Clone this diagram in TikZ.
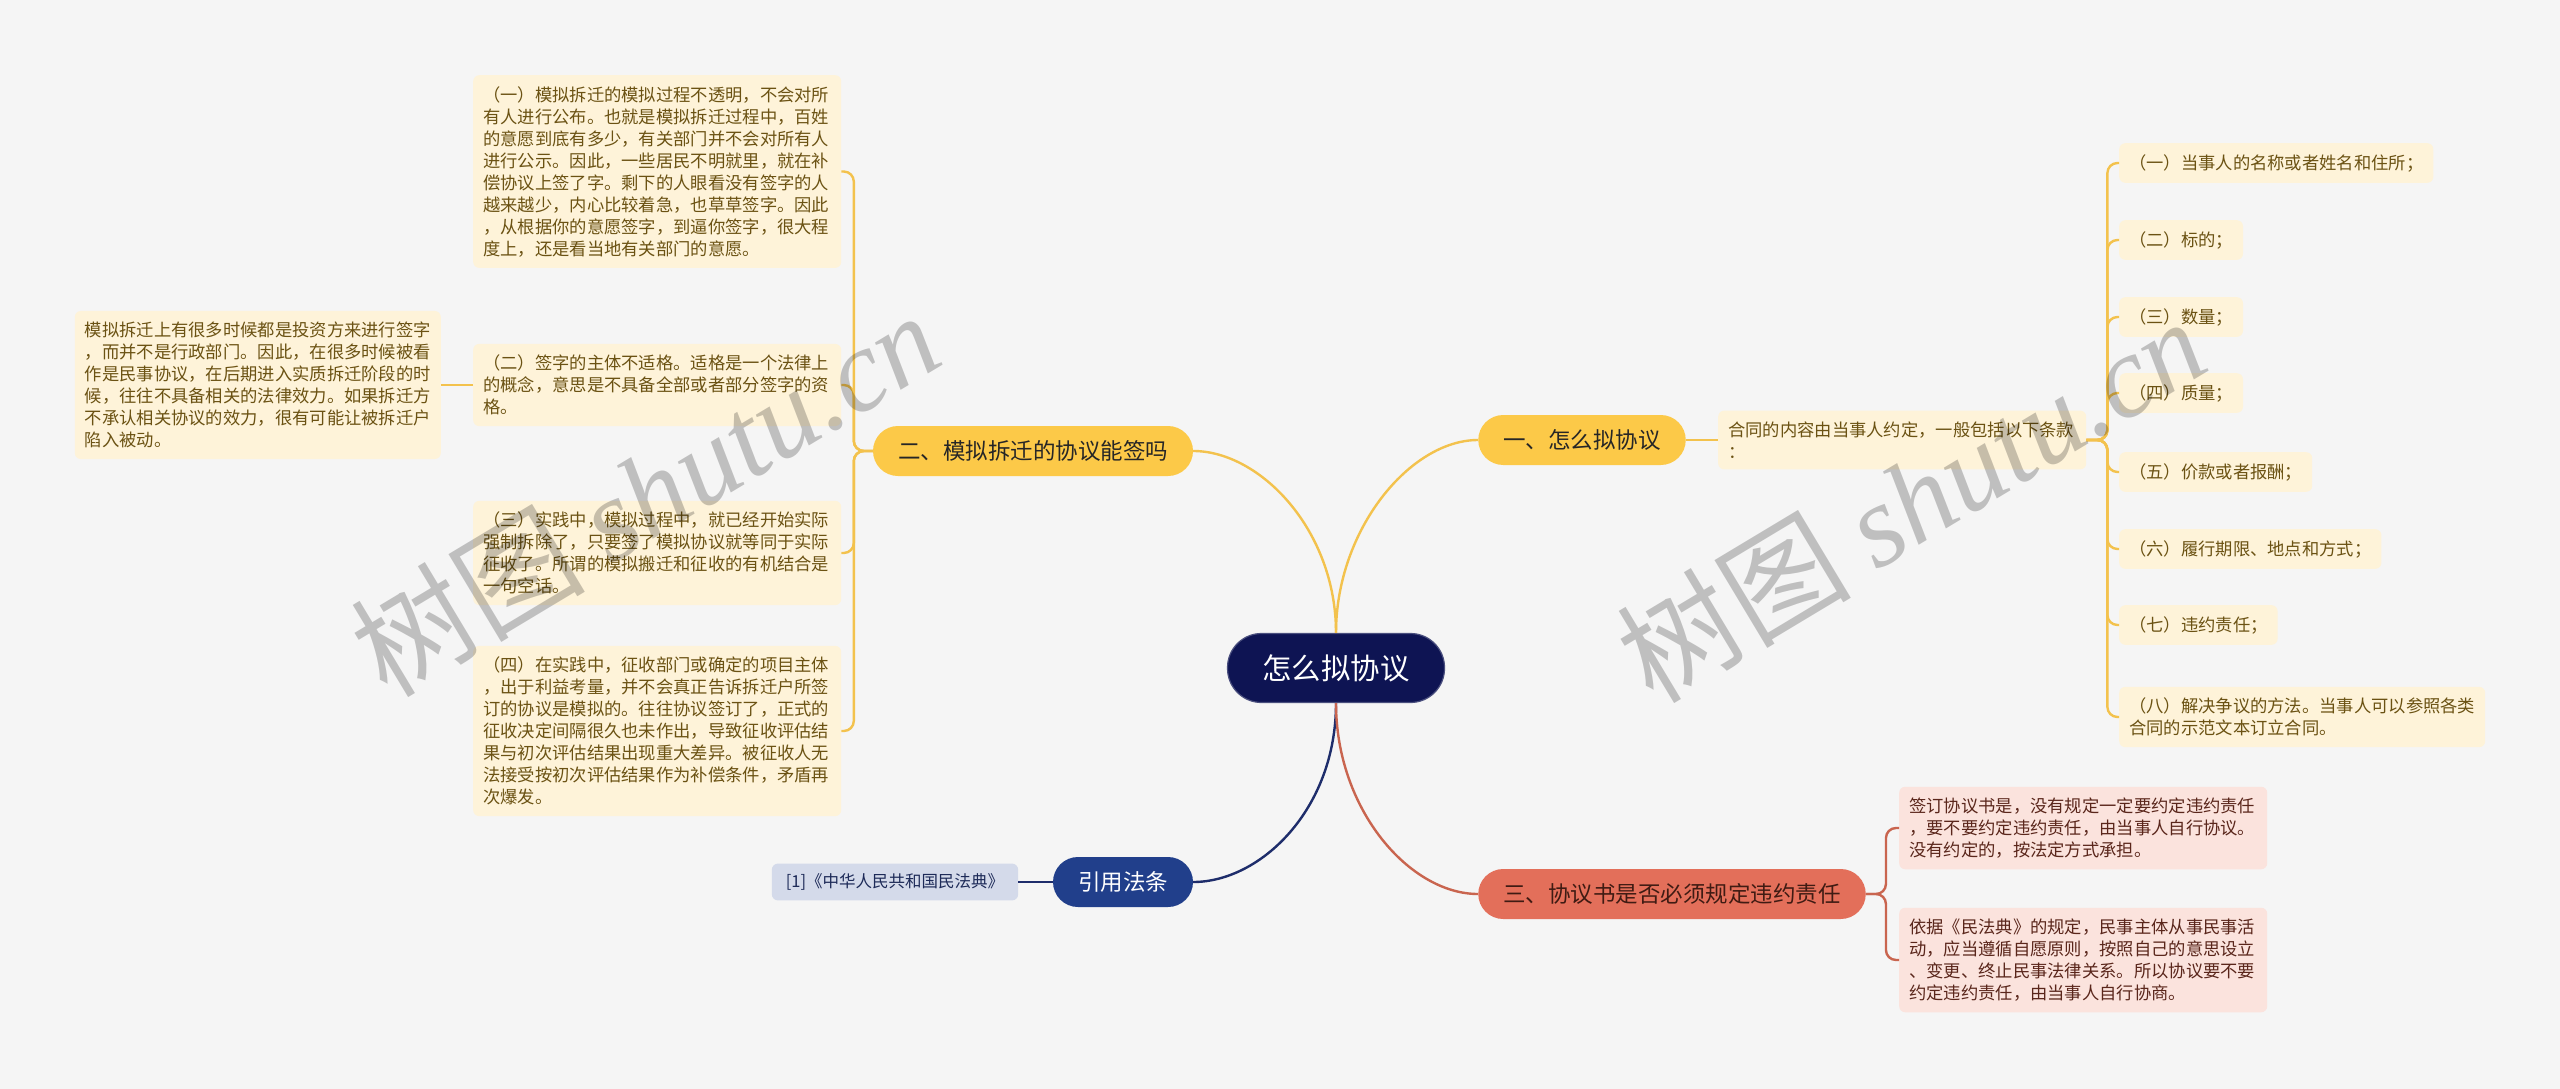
\documentclass[tikz,border=0pt]{standalone}
\usepackage{fontspec}
\setmainfont{Noto Sans CJK SC}
\newfontfamily\marcafont{Liberation Serif}

\definecolor{fondo}{HTML}{F5F5F5}
\definecolor{azulraiz}{HTML}{0E1453}
\definecolor{amarillo}{HTML}{FCC948}
\definecolor{lineaam}{HTML}{F3C24D}
\definecolor{cremahoja}{HTML}{FEF3D9}
\definecolor{textoam}{HTML}{6B5213}
\definecolor{rojo}{HTML}{E36F5A}
\definecolor{linearo}{HTML}{C9654F}
\definecolor{rosahoja}{HTML}{FBE3DD}
\definecolor{textoro}{HTML}{5A261B}
\definecolor{azulrama}{HTML}{213F8B}
\definecolor{lineaaz}{HTML}{1E2D6B}
\definecolor{grisazul}{HTML}{D4DAEA}
\definecolor{textoaz}{HTML}{1D2A58}

\tikzset{
  raiz/.style={fill=azulraiz,draw=azulraiz!75!white,line width=1.2pt,text=white,rounded corners=34pt,
    minimum width=217pt,minimum height=69pt,font=\fontsize{29.4}{34}\selectfont},
  rama/.style={rounded corners=25pt,minimum height=50pt,inner xsep=25pt,font=\fontsize{22.5}{27}\selectfont},
  hoja/.style={rounded corners=6pt,inner xsep=10pt,inner ysep=11pt,align=left,font=\fontsize{17.3}{22}\selectfont},
  hojaam/.style={hoja,fill=cremahoja,text=textoam},
  hojaro/.style={hoja,fill=rosahoja,text=textoro},
  conector/.style={line width=2.4pt,rounded corners=10pt},
  marca/.style={rotate=31,opacity=0.22,font=\fontsize{117}{117}\selectfont}
}

\begin{document}
\begin{tikzpicture}[x=1pt,y=-1pt]
  \fill[fondo] (0,0) rectangle (2560,1089);
  \useasboundingbox (0,0) rectangle (2560,1089);

  % nodo central y ramas
  \node[raiz] (raiz) at (1336,668) {怎么拟协议};
  \node[rama,fill=amarillo,text=black!85] (pacto) at (1582,440) {一、怎么拟协议};
  \node[rama,fill=amarillo,text=black!85] (firma) at (1033,451) {二、模拟拆迁的协议能签吗};
  \node[rama,fill=rojo,text=textoro!70!black] (multa) at (1672,894) {三、协议书是否必须规定违约责任};
  \node[rama,fill=azulrama,text=white] (citas) at (1123,882) {引用法条};

  \draw[lineaam,line width=2.4pt] (raiz.north) .. controls (1336,530) and (1260,451) .. (firma.east);
  \draw[lineaam,line width=2.4pt] (raiz.north) .. controls (1336,530) and (1410,440) .. (pacto.west);
  \draw[lineaaz,line width=2.4pt] (raiz.south) .. controls (1336,810) and (1260,882) .. (citas.east);
  \draw[linearo,line width=2.4pt] (raiz.south) .. controls (1336,810) and (1410,894) .. (multa.west);

  % rama dos
  \node[hojaam,text width=348pt,anchor=north west] (f1) at (473,75) {（一）模拟拆迁的模拟过程不透明，不会对所\\有人进行公布。也就是模拟拆迁过程中，百姓\\的意愿到底有多少，有关部门并不会对所有人\\进行公示。因此，一些居民不明就里，就在补\\偿协议上签了字。剩下的人眼看没有签字的人\\越来越少，内心比较着急，也草草签字。因此\\，从根据你的意愿签字，到逼你签字，很大程\\度上，还是看当地有关部门的意愿。};
  \node[hojaam,text width=348pt,anchor=west] (f2) at (473,385) {（二）签字的主体不适格。适格是一个法律上\\的概念，意思是不具备全部或者部分签字的资\\格。};
  \node[hojaam,text width=348pt,anchor=west] (f3) at (473,553) {（三）实践中，模拟过程中，就已经开始实际\\强制拆除了，只要签了模拟协议就等同于实际\\征收了。所谓的模拟搬迁和征收的有机结合是\\一句空话。};
  \node[hojaam,text width=348pt,anchor=west] (f4) at (473,731) {（四）在实践中，征收部门或确定的项目主体\\，出于利益考量，并不会真正告诉拆迁户所签\\订的协议是模拟的。往往协议签订了，正式的\\征收决定间隔很久也未作出，导致征收评估结\\果与初次评估结果出现重大差异。被征收人无\\法接受按初次评估结果作为补偿条件，矛盾再\\次爆发。};
  \node[hojaam,text width=346pt,anchor=east] (f5) at (441,385) {模拟拆迁上有很多时候都是投资方来进行签字\\，而并不是行政部门。因此，在很多时候被看\\作是民事协议，在后期进入实质拆迁阶段的时\\候，往往不具备相关的法律效力。如果拆迁方\\不承认相关协议的效力，很有可能让被拆迁户\\陷入被动。};
  \foreach \i in {1,...,4}
    \draw[conector,lineaam] (firma.west) -- ++(-19,0) |- (f\i.east);
  \draw[conector,lineaam] (f2.west) -- (f5.east);

  % rama uno
  \node[hojaam,text width=348pt,anchor=west] (contrato) at (1718,440) {合同的内容由当事人约定，一般包括以下条款\\：};
  \draw[conector,lineaam] (pacto.east) -- (contrato.west);
  \foreach \i/\yy/\txt in {1/163/{（一）当事人的名称或者姓名和住所；},2/240/{（二）标的；},
      3/317/{（三）数量；},4/393/{（四）质量；},5/472/{（五）价款或者报酬；},
      6/549/{（六）履行期限、地点和方式；},7/625/{（七）违约责任；}}{
    \node[hojaam,anchor=west] (k\i) at (2119,\yy) {\txt};
    \draw[conector,lineaam] (contrato.east) -- ++(21,0) |- (k\i.west);
  }
  \node[hojaam,text width=346pt,anchor=west] (k8) at (2119,717) {（八）解决争议的方法。当事人可以参照各类\\合同的示范文本订立合同。};
  \draw[conector,lineaam] (contrato.east) -- ++(21,0) |- (k8.west);

  % rama tres
  \node[hojaro,text width=348pt,anchor=west] (r1) at (1899,828) {签订协议书是，没有规定一定要约定违约责任\\，要不要约定违约责任，由当事人自行协议。\\没有约定的，按法定方式承担。};
  \node[hojaro,text width=348pt,anchor=west] (r2) at (1899,960) {依据《民法典》的规定，民事主体从事民事活\\动，应当遵循自愿原则，按照自己的意思设立\\、变更、终止民事法律关系。所以协议要不要\\约定违约责任，由当事人自行协商。};
  \foreach \i in {1,2}
    \draw[conector,linearo] (multa.east) -- ++(20,0) |- (r\i.west);

  % citas
  \node[hoja,fill=grisazul,text=textoaz,inner xsep=14pt,inner ysep=10pt,font=\fontsize{16.5}{20}\selectfont] (ley) at (895,882) {[1]《中华人民共和国民法典》};
  \draw[conector,lineaaz] (citas.west) -- (ley.east);

  % marca de agua
  \node[marca] (marca1) at (645,493) {树图 {\marcafont\itshape shutu.cn}};
  \node[marca] (marca2) at (1911,499) {树图 {\marcafont\itshape shutu.cn}};
\end{tikzpicture}
\end{document}
